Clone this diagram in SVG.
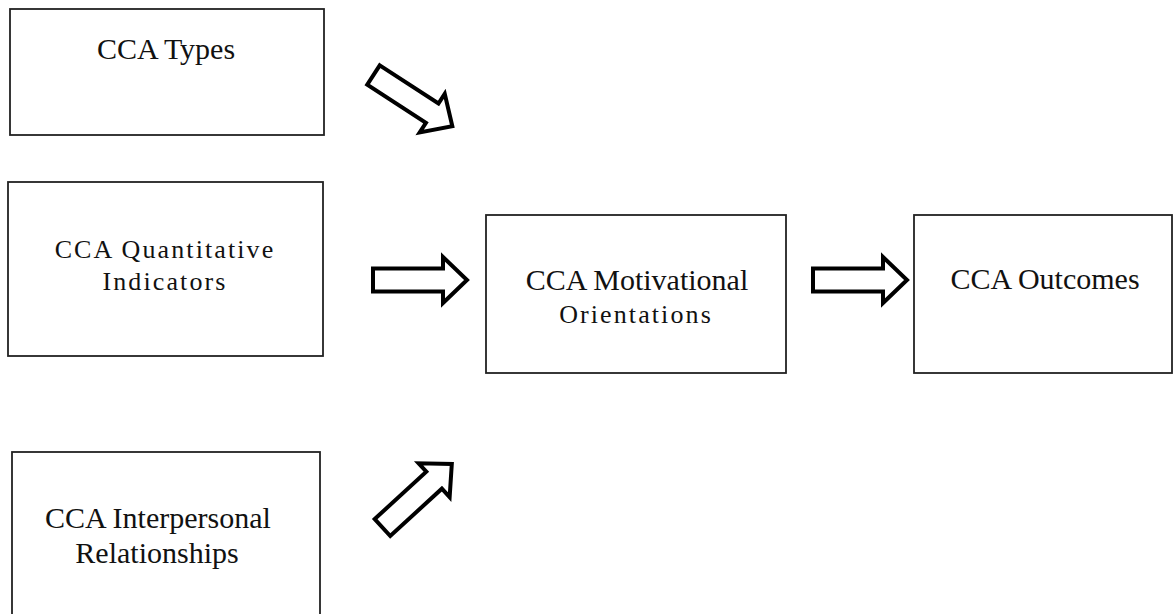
<svg xmlns="http://www.w3.org/2000/svg" width="1173" height="614" viewBox="0 0 1173 614">
<style>
.box{fill:#fff;stroke:#222;stroke-width:1.8}
.t{font-family:"Liberation Serif","Times New Roman",serif;font-size:30px;fill:#111;text-anchor:middle}
.ts{font-family:"Liberation Serif","Times New Roman",serif;font-size:26px;fill:#111;text-anchor:middle;letter-spacing:2.1px}
.arr{fill:#fff;stroke:#000;stroke-width:4;stroke-linejoin:miter}
</style>
<defs>
<path id="barrow" d="M0,-11.5 H70 V-23 L94,0 L70,23 V11.5 H0 Z"/>
</defs>
<rect width="1173" height="614" fill="#fff"/>
<g id="cca-types">
<rect class="box" x="10" y="9" width="314" height="126"/>
<text class="t" x="166" y="59">CCA Types</text>
</g>
<g id="cca-quantitative">
<rect class="box" x="8" y="182" width="315" height="174"/>
<text class="ts" x="165" y="258">CCA Quantitative</text>
<text class="ts" x="165" y="290">Indicators</text>
</g>
<g id="cca-interpersonal">
<rect class="box" x="12" y="452" width="308" height="180"/>
<text class="t" x="158" y="528">CCA Interpersonal</text>
<text class="t" x="157" y="563">Relationships</text>
</g>
<g id="cca-motivational">
<rect class="box" x="486" y="215" width="300" height="158"/>
<text class="t" x="637" y="290">CCA Motivational</text>
<text class="ts" x="636" y="323">Orientations</text>
</g>
<g id="cca-outcomes">
<rect class="box" x="914" y="215" width="258" height="158"/>
<text class="t" x="1045" y="289">CCA Outcomes</text>
</g>
<g id="connectors">
<use href="#barrow" class="arr" transform="translate(373.5,75) rotate(33)"/>
<use href="#barrow" class="arr" transform="translate(373,280)"/>
<use href="#barrow" class="arr" transform="translate(382.5,527.5) rotate(-42.5)"/>
<use href="#barrow" class="arr" transform="translate(813,280)"/>
</g>
</svg>
